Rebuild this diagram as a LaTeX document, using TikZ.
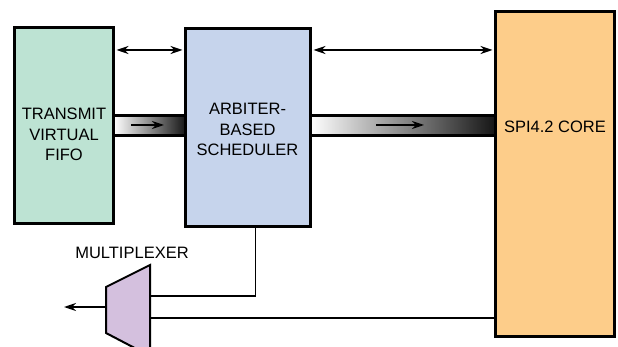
\documentclass[tikz,border=0pt]{standalone}
\usepackage{fontspec}
\setmainfont{Liberation Sans}
\usetikzlibrary{arrows.meta}
\definecolor{fifocol}{HTML}{BDE3D3}
\definecolor{schedcol}{HTML}{C6D4EC}
\definecolor{corecol}{HTML}{FDCD8A}
\definecolor{muxcol}{HTML}{D4C0DE}
\tikzset{
  box/.style={draw=black, line width=3pt, inner sep=0pt, rectangle},
  lbl/.style={inner sep=0pt, align=center, font=\fontsize{16.5}{20.5}\selectfont},
  conn/.style={draw=black, line width=1.6pt},
  tip/.style={-{Stealth[length=12pt,width=8pt]}},
  bitip/.style={{Stealth[length=12pt,width=8pt]}-{Stealth[length=12pt,width=8pt]}},
  bar/.style={left color=white, right color=black!92},
  barline/.style={draw=black, line width=2.4pt},
}
\begin{document}
\begin{tikzpicture}[x=1pt,y=-1pt]
\useasboundingbox (0,0) rectangle (618,347);
\clip (0,0) rectangle (618,347);
\fill[white] (0,0) rectangle (618,347);

% gradient bars
\coordinate (b1a) at (114,115.5);
\coordinate (b1b) at (186,135.5);
\coordinate (b2a) at (310,115.5);
\coordinate (b2b) at (496,135.5);
\shade[bar] (b1a) rectangle (b1b);
\draw[barline] (b1a) -- (b1a -| b1b) (b1b) -- (b1b -| b1a);
\shade[bar] (b2a) rectangle (b2b);
\draw[barline] (b2a) -- (b2a -| b2b) (b2b) -- (b2b -| b2a);
\coordinate (a1s) at (131,125);
\coordinate (a1e) at (164,125);
\coordinate (a2s) at (376,125);
\coordinate (a2e) at (424,125);
\draw[line width=1.4pt, tip] (a1s) -- (a1e);
\draw[line width=1.4pt, tip] (a2s) -- (a2e);

% boxes
\node[box, fill=fifocol, minimum width=99pt, minimum height=196pt] (fifo) at (64,125.5) {};
\node[box, fill=schedcol, minimum width=125pt, minimum height=198pt] (sched) at (248,127.5) {};
\node[box, fill=corecol, minimum width=119pt, minimum height=325pt] (core) at (555,174) {};

\node[lbl] (fifotxt) at (64,134.5) {TRANSMIT\\VIRTUAL\\FIFO};
\node[lbl] (schedtxt) at (247.5,129.5) {ARBITER-\\BASED\\SCHEDULER};
\node[lbl] (coretxt) at (555,126.5) {SPI4.2 CORE};
\node[lbl] (muxtxt) at (132,253) {MULTIPLEXER};

% top bidirectional arrows
\coordinate (ty) at (0,50);
\draw[line width=1.4pt, bitip] ([xshift=1.5pt]fifo.east |- ty) -- ([xshift=-1.5pt]sched.west |- ty);
\draw[line width=1.4pt, bitip] ([xshift=1.5pt]sched.east |- ty) -- ([xshift=-1.5pt]core.west |- ty);

% multiplexer
\coordinate (m1) at (106,287);
\coordinate (m2) at (150,265);
\coordinate (m3) at (150,356);
\coordinate (m4) at (106,333);
\draw[fill=muxcol, line width=2pt, line join=miter] (m1) -- (m2) -- (m3) -- (m4) -- cycle;
\coordinate (muxout) at (106,307);
\coordinate (outend) at (64,307);
\coordinate (muxin1) at (150,296);
\coordinate (muxin2) at (150,318);
\coordinate (sx) at (255.5,0);

\draw[conn, tip] (muxout) -- (outend);
\draw[conn] (sched.south -| sx) -- (sx |- muxin1) -- (muxin1);
\draw[conn] (core.west |- muxin2) -- (muxin2);
\end{tikzpicture}
\end{document}
